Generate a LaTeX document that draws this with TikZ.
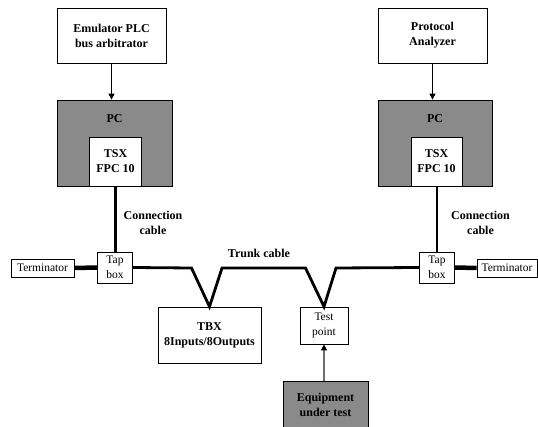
\documentclass[tikz,border=0pt]{standalone}
\usepackage{fontspec}
\setmainfont{Liberation Serif}
\usetikzlibrary{arrows.meta}
\definecolor{boxgray}{RGB}{138,138,138}
\definecolor{wiregray}{RGB}{110,110,110}
\tikzset{
  box/.style={draw=black, line width=0.7pt, fill=white, align=center, inner sep=0pt,
    font=\fontsize{12}{15}\selectfont\bfseries},
  smallbox/.style={draw=black, line width=0.7pt, fill=white, align=center, inner sep=0pt,
    font=\fontsize{11.5}{15}\selectfont},
  pcbox/.style={draw=black, line width=0.7pt, fill=boxgray, inner sep=0pt},
  lbl/.style={align=center, inner sep=0pt, font=\fontsize{12}{15}\selectfont\bfseries},
  feed/.style={line width=0.8pt, -{Triangle[width=6pt,length=6pt]}},
  cable/.style={line width=2.4pt},
  trunk/.style={line width=2.8pt, line join=miter},
  endlink/.style={line width=4.5pt},
}
\begin{document}
\begin{tikzpicture}[x=1pt,y=-1pt]
\useasboundingbox (0,0) rectangle (538,427);
\fill[white] (0,0) rectangle (538,427);

% upper row: source boxes
\node[box, minimum width=109pt, minimum height=55pt] (emu) at (111.5,35.5) {Emulator PLC\\bus arbitrator};
\node[box, minimum width=109pt, minimum height=55pt] (ana) at (432.5,35.5) {Protocol\\Analyzer};

% personal computers with their interface cards
\node[pcbox, minimum width=115pt, minimum height=86pt] (pcL) at (114.5,143) {};
\node[lbl] at (114.5,119) {PC};
\node[box, minimum width=52pt, minimum height=49pt] (tsxL) at (115.5,161.5) {TSX\\FPC 10};

\node[pcbox, minimum width=114pt, minimum height=86pt] (pcR) at (435,143) {};
\node[lbl] at (435,119) {PC};
\node[box, minimum width=51pt, minimum height=49pt] (tsxR) at (436.5,161.5) {TSX\\FPC 10};

\draw[feed] (emu.south) -- (pcL.north -| emu.south);
\draw[feed] (ana.south) -- (pcR.north -| ana.south);

% tap boxes and terminators
\node[smallbox, minimum width=35pt, minimum height=31pt] (tapL) at (115,267.5) {Tap\\box};
\node[smallbox, minimum width=35pt, minimum height=31pt] (tapR) at (437,267.5) {Tap\\box};
\node[smallbox, minimum width=63pt, minimum height=18pt] (termL) at (42.5,268) {Terminator};
\node[smallbox, minimum width=60pt, minimum height=18pt] (termR) at (507,268) {Terminator};

\draw[cable] (tsxL.south) -- (tsxL.south |- tapL.north);
\draw[cable] (tsxR.south -| tapR.north) -- (tapR.north);
\draw[endlink] (termL.east) -- (tapL.west);
\draw[endlink] (tapR.east) -- (termR.west);

\node[lbl] at (153,222.5) {Connection\\cable};
\node[lbl] at (480.5,222.5) {Connection\\cable};

% stations on the trunk
\node[box, minimum width=103pt, minimum height=56pt] (tbx) at (209.5,335) {TBX\\8Inputs/8Outputs};
\node[smallbox, minimum width=48pt, minimum height=37pt] (tp) at (324,325.5) {Test\\point};
\node[box, fill=boxgray, minimum width=85pt, minimum height=47pt] (eut) at (325.5,404.5) {Equipment\\under test};

% trunk cable with its drops
\coordinate (k1) at (191.5,268);
\coordinate (k2) at (222,268);
\coordinate (k3) at (305.5,268);
\coordinate (k4) at (336,268);
\draw[trunk] (tapL.east) -- (k1) -- (tbx.north) -- (k2) -- (k3) -- (tp.north) -- (k4) -- (tapR.west);
\node[lbl] at (259,253) {Trunk cable};

\draw[line width=1.2pt, draw=wiregray, -{Triangle[width=6pt,length=6pt,color=black]}] (eut.north -| tp.south) -- (tp.south);
\end{tikzpicture}
\end{document}
